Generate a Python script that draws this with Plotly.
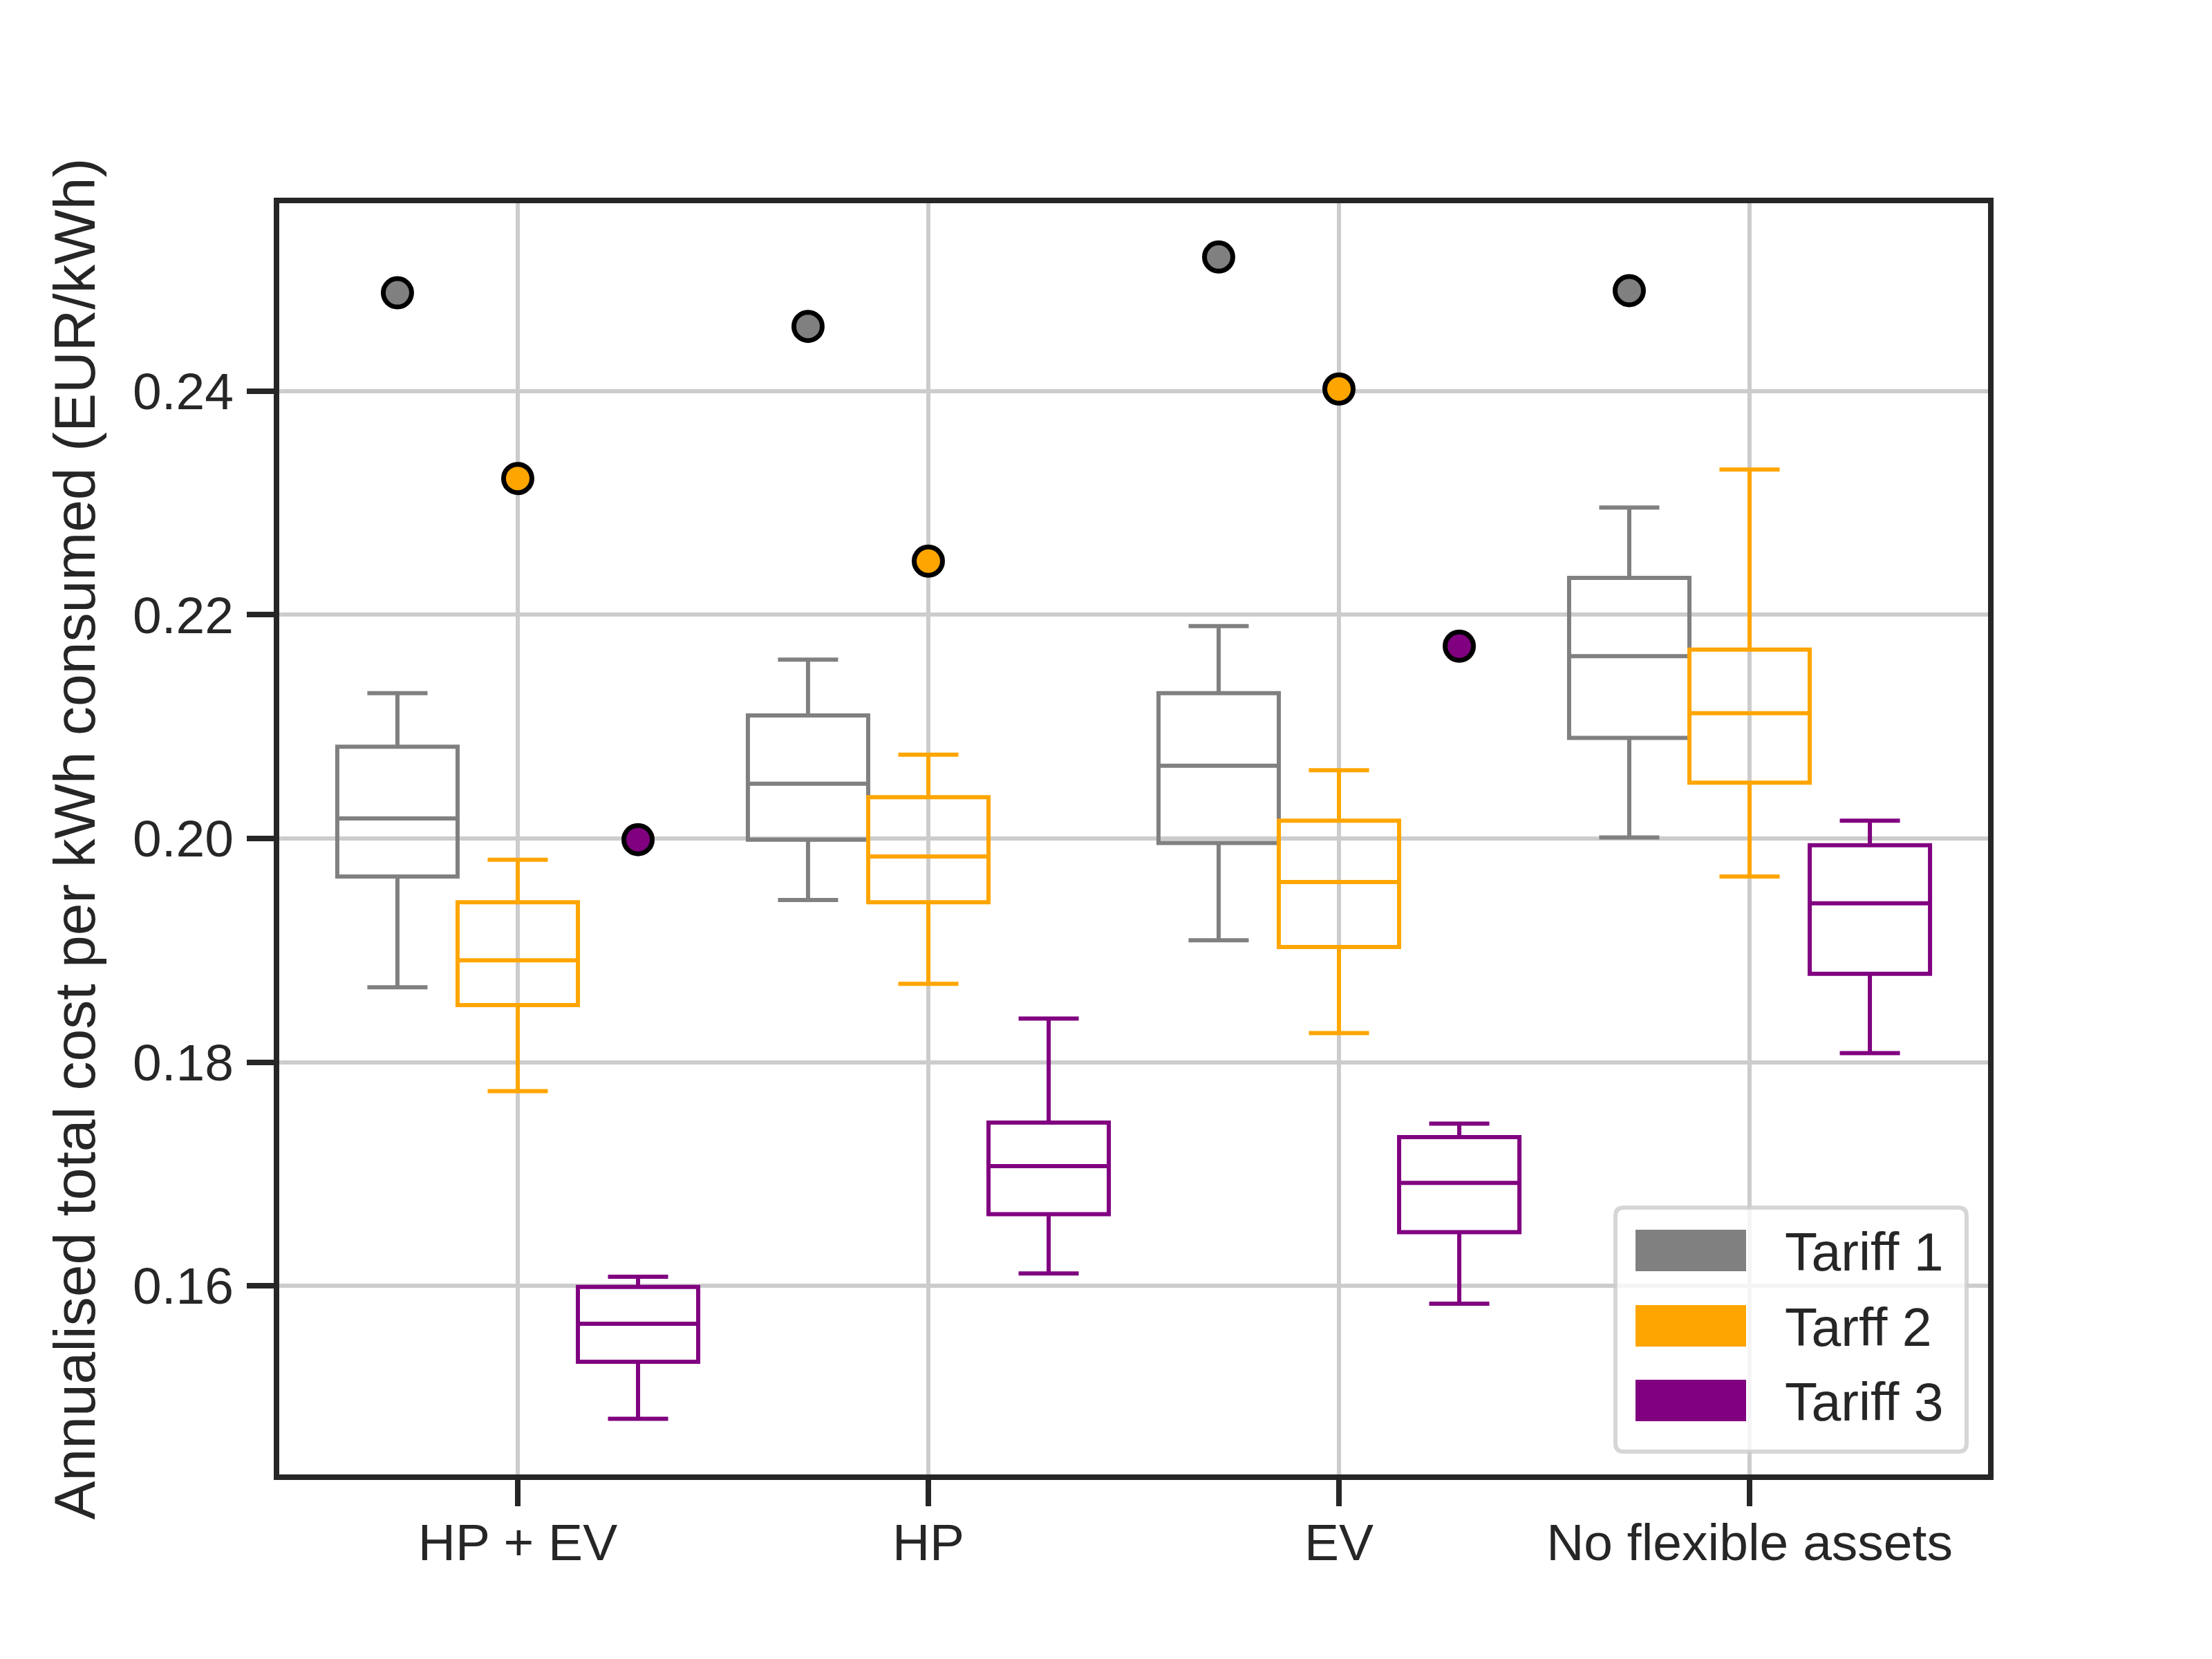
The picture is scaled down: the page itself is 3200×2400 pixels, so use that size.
import plotly.graph_objects as go

# categories and tariff names
categories = ["HP + EV", "HP", "EV", "No flexible assets"]
tariff_names = ["Tariff 1", "Tarff 2", "Tariff 3"]
tariff_colors = ["#808080", "#FFA500", "#800080"]

# box statistics per tariff (EUR/kWh), one value per category
t1_lower = [0.1867, 0.1945, 0.1909, 0.2001]
t1_q1 = [0.1966, 0.1999, 0.1996, 0.2090]
t1_median = [0.2018, 0.2049, 0.2065, 0.2163]
t1_q3 = [0.2082, 0.2110, 0.2130, 0.2233]
t1_upper = [0.2130, 0.2160, 0.2190, 0.2296]
t1_outliers = [0.2488, 0.2458, 0.2520, 0.2490]

t2_lower = [0.1774, 0.1870, 0.1826, 0.1966]
t2_q1 = [0.1851, 0.1943, 0.1903, 0.2050]
t2_median = [0.1891, 0.1984, 0.1961, 0.2112]
t2_q3 = [0.1943, 0.2037, 0.2016, 0.2169]
t2_upper = [0.1981, 0.2075, 0.2061, 0.2330]
t2_outliers = [0.2322, 0.2248, 0.2402, None]

t3_lower = [0.1481, 0.1611, 0.1584, 0.1808]
t3_q1 = [0.1532, 0.1664, 0.1648, 0.1879]
t3_median = [0.1566, 0.1707, 0.1692, 0.1942]
t3_q3 = [0.1599, 0.1746, 0.1733, 0.1994]
t3_upper = [0.1608, 0.1839, 0.1745, 0.2016]
t3_outliers = [0.1999, None, 0.2172, None]

y_ticks = [0.16, 0.18, 0.20, 0.22, 0.24]

stats = [
    (t1_lower, t1_q1, t1_median, t1_q3, t1_upper, t1_outliers),
    (t2_lower, t2_q1, t2_median, t2_q3, t2_upper, t2_outliers),
    (t3_lower, t3_q1, t3_median, t3_q3, t3_upper, t3_outliers),
]

FONT = "Liberation Sans, Arial, sans-serif"
TXT = "#262626"
box_w = 0.293

fig = go.Figure()

for k, (lo, q1, med, q3, hi, outl) in enumerate(stats):
    pos = [i + (k - 1) * box_w for i in range(len(categories))]
    fig.add_trace(go.Box(
        x=pos, q1=q1, median=med, q3=q3, lowerfence=lo, upperfence=hi,
        name=tariff_names[k], width=box_w, whiskerwidth=0.5,
        line=dict(color=tariff_colors[k], width=6),
        fillcolor="rgba(0,0,0,0)", boxpoints=False, showlegend=False,
    ))
    fig.add_trace(go.Scatter(
        x=pos, y=outl, mode="markers", showlegend=False,
        marker=dict(size=41, color=tariff_colors[k],
                    line=dict(color="black", width=7)),
    ))

# frame centred on the plot edges (like matplotlib spines)
fig.add_shape(type="rect", xref="paper", yref="paper", x0=0, x1=1, y0=0, y1=1,
              line=dict(color=TXT, width=8), layer="above")

# legend drawn by hand so the colour patches are large like the original
# (pixel positions below are page pixels; the page body adds an 8px offset)
def px_x(p):
    return (p - 400) / 2480

def px_y(p):
    return (2137 - p) / 1847

x0, x1, y0, y1 = px_x(2337), px_x(2845), px_y(2100), px_y(1747)
rx, ry = 12 / 2480, 12 / 1847
path = (f"M{x0+rx},{y0} L{x1-rx},{y0} Q{x1},{y0} {x1},{y0+ry} "
        f"L{x1},{y1-ry} Q{x1},{y1} {x1-rx},{y1} L{x0+rx},{y1} "
        f"Q{x0},{y1} {x0},{y1-ry} L{x0},{y0+ry} Q{x0},{y0} {x0+rx},{y0} Z")
fig.add_shape(type="path", path=path, xref="paper", yref="paper",
              fillcolor="rgba(255,255,255,0.8)",
              line=dict(color="rgba(204,204,204,0.8)", width=6), layer="above")

row_y = [1809, 1918, 2026]
for k, name in enumerate(tariff_names):
    fig.add_shape(type="rect", xref="paper", yref="paper",
                  x0=px_x(2366), x1=px_x(2526),
                  y0=px_y(row_y[k] + 30), y1=px_y(row_y[k] - 30),
                  fillcolor=tariff_colors[k], line=dict(width=0), layer="above")
    fig.add_annotation(x=px_x(2580), y=px_y(row_y[k] + 2), xref="paper", yref="paper",
                       text=name, showarrow=False, xanchor="left", yanchor="middle",
                       font=dict(family=FONT, size=77, color=TXT))

fig.update_layout(
    width=3192, height=2392,
    margin=dict(l=392, r=320, t=282, b=263),
    paper_bgcolor="white", plot_bgcolor="white",
    font=dict(family=FONT, size=75, color=TXT),
)
fig.update_xaxes(
    range=[-0.5875, 3.5875], tickvals=list(range(len(categories))), ticktext=categories,
    showgrid=True, gridcolor="#cccccc", gridwidth=6, zeroline=False, showline=False,
    ticks="outside", ticklen=41, tickwidth=8, tickcolor=TXT,
    tickfont=dict(size=75), ticklabelstandoff=-12,
)
fig.update_yaxes(
    range=[0.14288, 0.25706], tickvals=y_ticks, tickformat=".2f",
    showgrid=True, gridcolor="#cccccc", gridwidth=6, zeroline=False, showline=False,
    ticks="outside", ticklen=42, tickwidth=8, tickcolor=TXT,
    tickfont=dict(size=75), ticklabelstandoff=4,
    title=dict(text="Annualised total cost per kWh consumed (EUR/kWh)",
               font=dict(size=84), standoff=26),
)

fig.write_html("out.html")
